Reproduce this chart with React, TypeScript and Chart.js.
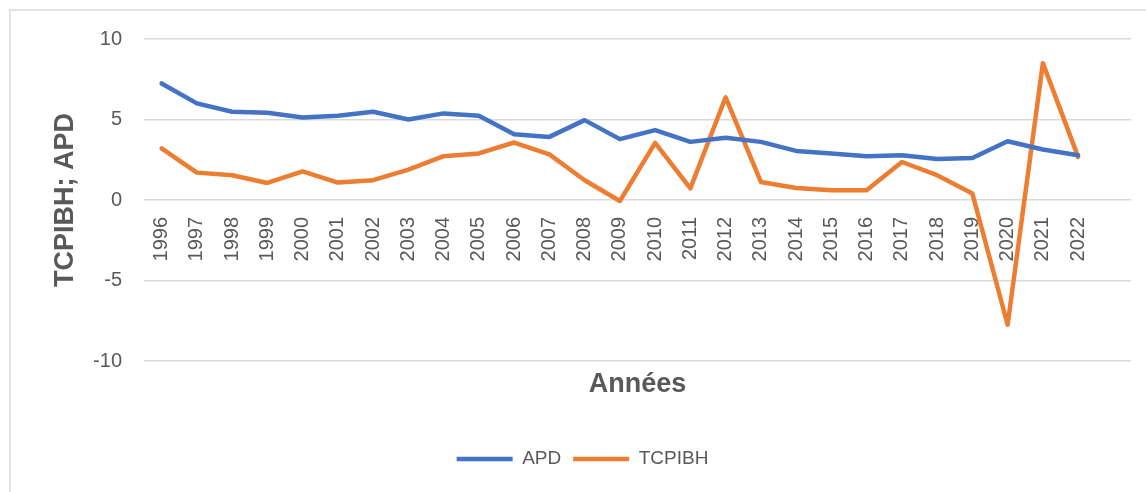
import React, { useEffect, useRef } from "react";
import { Chart, registerables } from "chart.js";

Chart.register(...registerables);

const years = [
  "1996", "1997", "1998", "1999", "2000", "2001", "2002", "2003", "2004",
  "2005", "2006", "2007", "2008", "2009", "2010", "2011", "2012", "2013",
  "2014", "2015", "2016", "2017", "2018", "2019", "2020", "2021", "2022",
];

const apd = [
  7.24, 6.0, 5.48, 5.42, 5.12, 5.23, 5.48, 5.0, 5.38, 5.23, 4.09, 3.92, 4.96,
  3.78, 4.34, 3.61, 3.86, 3.61, 3.05, 2.89, 2.72, 2.78, 2.55, 2.61, 3.65, 3.14,
  2.78,
];

const tcpibh = [
  3.2, 1.7, 1.54, 1.06, 1.78, 1.08, 1.23, 1.89, 2.72, 2.89, 3.57, 2.83, 1.23,
  -0.06, 3.55, 0.72, 6.38, 1.12, 0.75, 0.6, 0.6, 2.36, 1.54, 0.4, -7.75, 8.5,
  2.68,
];

const yTicks = [-10, -5, 0, 5, 10];

const FONT = "'Liberation Sans', Arial, sans-serif";
const TEXT = "#595959";
const BLUE = "#4472C4";
const ORANGE = "#ED7D31";
const GRID = "#d9d9d9";

export default function App() {
  const ref = useRef<HTMLCanvasElement | null>(null);

  useEffect(() => {
    if (!ref.current) return;
    const labels = [...years, ""];
    const chart = new Chart(ref.current, {
      type: "line",
      data: {
        labels,
        datasets: [
          {
            label: "APD",
            data: apd,
            borderColor: BLUE,
            backgroundColor: BLUE,
            borderWidth: 4.5,
            pointRadius: 0,
            tension: 0,
            borderCapStyle: "round",
            borderJoinStyle: "round",
          },
          {
            label: "TCPIBH",
            data: tcpibh,
            borderColor: ORANGE,
            backgroundColor: ORANGE,
            borderWidth: 4.5,
            pointRadius: 0,
            tension: 0,
            borderCapStyle: "round",
            borderJoinStyle: "round",
          },
        ],
      },
      options: {
        animation: false,
        responsive: false,
        maintainAspectRatio: false,
        layout: { padding: { left: 34, right: 15, top: 39, bottom: 13.5 } },
        scales: {
          x: {
            type: "category",
            offset: true,
            position: { y: 0 } as any,
            grid: { display: false, drawTicks: false },
            border: { display: false },
            ticks: {
              autoSkip: false,
              minRotation: 90,
              maxRotation: 90,
              padding: 17,
              color: TEXT,
              font: { family: FONT, size: 20 },
            },
            afterFit: (s: any) => {
              s.height = 0;
              s.paddingLeft = 0;
              s.paddingRight = 0;
            },
          },
          y: {
            min: yTicks[0],
            max: yTicks[yTicks.length - 1],
            afterBuildTicks: (s: any) => {
              s.ticks = yTicks.map((v) => ({ value: v }));
            },
            ticks: {
              padding: 22,
              color: TEXT,
              font: { family: FONT, size: 20 },
            },
            grid: { color: GRID, lineWidth: 1.5, drawTicks: false },
            border: { display: false },
            title: {
              display: true,
              text: "TCPIBH; APD",
              color: TEXT,
              font: { family: FONT, size: 27, weight: "bold" },
              padding: { top: 15, bottom: 0 },
            },
            afterFit: (s: any) => {
              s.width = 110;
            },
          },
        },
        plugins: {
          tooltip: { enabled: false },
          title: {
            display: true,
            text: "Années",
            position: "bottom",
            weight: 500,
            fullSize: false,
            color: TEXT,
            font: { family: FONT, size: 27, weight: "bold" },
            padding: { top: 7.3, bottom: 36.8 },
          } as any,
          legend: {
            display: true,
            position: "bottom",
            labels: {
              usePointStyle: true,
              pointStyle: "line",
              pointStyleWidth: 56,
              padding: 12,
              color: TEXT,
              font: { family: FONT, size: 19 },
            },
          },
        },
      },
    });
    return () => chart.destroy();
  }, []);

  return (
    <div
      style={{
        position: "absolute",
        left: 0,
        top: 0,
        width: 1146,
        height: 492,
        overflow: "hidden",
        background: "#fff",
      }}
    >
      <div
        style={{
          position: "absolute",
          left: 9,
          top: 9,
          width: 1300,
          height: 700,
          border: "2px solid #e2e2e2",
        }}
      />
      <canvas
        ref={ref}
        width={1146}
        height={492}
        style={{ position: "absolute", left: 0, top: 0, display: "block" }}
      />
    </div>
  );
}
